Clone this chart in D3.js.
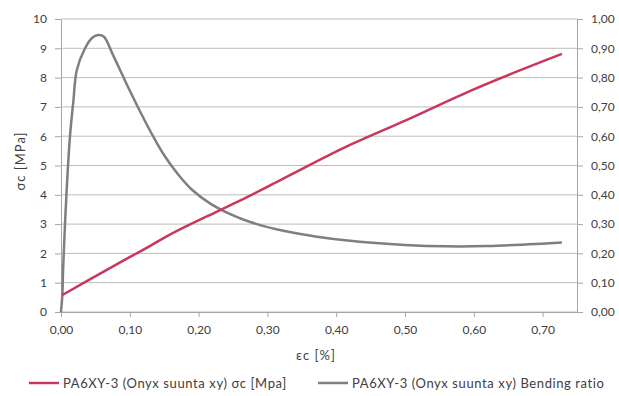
<!DOCTYPE html>
<html>
<head>
<meta charset="utf-8">
<script src="https://cdn.jsdelivr.net/npm/d3@7"></script>
<style>
  html, body { margin: 0; padding: 0; background: #fff; }
  svg { display: block; }
  text { font-family: Lato, "Open Sans", sans-serif; fill: #404040; }
</style>
</head>
<body>
<svg id="chart" width="619" height="396"></svg>
<script>
// Strain εc [%] and compressive stress σc [MPa]
const stressStrain = [0.002, 0.04, 0.088, 0.129, 0.151, 0.226, 0.26, 0.323, 0.42, 0.502, 0.6, 0.728];
const stressValues = [0.58, 1.09, 1.72, 2.25, 2.55, 3.42, 3.8, 4.55, 5.7, 6.55, 7.6, 8.81];

// Strain εc [%] and bending ratio
const bendStrain = [0.0, 0.002, 0.003, 0.008, 0.013, 0.018, 0.023, 0.035, 0.045, 0.054, 0.062, 0.076, 0.095, 0.117, 0.135, 0.15, 0.17, 0.19, 0.217, 0.246, 0.275, 0.323, 0.372, 0.42, 0.5, 0.56, 0.62, 0.68, 0.728];
const bendValues = [0.0, 0.06, 0.143, 0.406, 0.598, 0.72, 0.826, 0.9, 0.935, 0.945, 0.94, 0.875, 0.78, 0.675, 0.595, 0.535, 0.47, 0.418, 0.37, 0.334, 0.307, 0.277, 0.257, 0.243, 0.229, 0.224, 0.225, 0.231, 0.237];

const xTicks = [0, 0.1, 0.2, 0.3, 0.4, 0.5, 0.6, 0.7];
const yLeftTicks = [0, 1, 2, 3, 4, 5, 6, 7, 8, 9, 10];
const yRightTicks = [0, 0.1, 0.2, 0.3, 0.4, 0.5, 0.6, 0.7, 0.8, 0.9, 1.0];

const legendLabels = [
  "PA6XY-3 (Onyx suunta xy) σc [Mpa]",
  "PA6XY-3 (Onyx suunta xy) Bending ratio"
];
const seriesColors = ["#c8385c", "#7f7f7f"];

const svg = d3.select("#chart");
const m = { left: 61, right: 577, top: 19, bottom: 312 };

const x = d3.scaleLinear().domain([0, 0.75]).range([m.left, m.right]);
const yL = d3.scaleLinear().domain([0, 10]).range([m.bottom, m.top]);
const yR = d3.scaleLinear().domain([0, 1]).range([m.bottom, m.top]);

const comma = d => d3.format(".2f")(d).replace(".", ",");

// horizontal gridlines
svg.append("g").selectAll("line").data(yLeftTicks).join("line")
  .attr("x1", m.left).attr("x2", m.right)
  .attr("y1", d => yL(d)).attr("y2", d => yL(d))
  .attr("stroke", "#bdbdbd").attr("stroke-width", 1);

// axes
const axisStyle = g => {
  g.select(".domain").attr("stroke", "#a6a6a6");
  g.selectAll(".tick line").attr("stroke", "#a6a6a6");
  g.selectAll(".tick text").attr("fill", "#404040")
    .style("font-family", "Lato, 'Open Sans', sans-serif").style("font-size", "12px");
};

svg.append("g").attr("transform", `translate(${m.left},0)`)
  .call(d3.axisLeft(yL).tickValues(yLeftTicks).tickFormat(d3.format("d")).tickSize(6).tickSizeOuter(0).tickPadding(8))
  .call(axisStyle);

svg.append("g").attr("transform", `translate(${m.right},0)`)
  .call(d3.axisRight(yR).tickValues(yRightTicks).tickFormat(comma).tickSize(6).tickSizeOuter(0).tickPadding(8))
  .call(axisStyle);

svg.append("g").attr("transform", `translate(0,${m.bottom})`)
  .call(d3.axisBottom(x).tickValues(xTicks).tickFormat(comma).tickSize(5).tickSizeOuter(0).tickPadding(8))
  .call(axisStyle);

// series lines
const stressLine = d3.line().curve(d3.curveMonotoneX)
  .x((d, i) => x(stressStrain[i])).y(d => yL(d));
const bendLine = d3.line().curve(d3.curveCatmullRom.alpha(0.5))
  .x((d, i) => x(bendStrain[i])).y(d => yR(d));

svg.append("path").datum(bendValues)
  .attr("d", bendLine).attr("fill", "none")
  .attr("stroke", seriesColors[1]).attr("stroke-width", 2.5).attr("stroke-linejoin", "round");

svg.append("path").datum(stressValues)
  .attr("d", stressLine).attr("fill", "none")
  .attr("stroke", seriesColors[0]).attr("stroke-width", 2.5).attr("stroke-linejoin", "round");

// axis titles
svg.append("text").attr("transform", "translate(25,161) rotate(-90)")
  .attr("text-anchor", "middle").style("font-size", "13px").style("letter-spacing", "1px").text("σc [MPa]");
svg.append("text").attr("x", 316).attr("y", 360)
  .attr("text-anchor", "middle").style("font-size", "13px").style("letter-spacing", "1px").text("εc [%]");

// legend
const legendX = [29, 318];
const lg = svg.append("g").selectAll("g").data(legendLabels).join("g")
  .attr("transform", (d, i) => `translate(${legendX[i]},383)`);
lg.append("line").attr("x1", 0).attr("x2", 30).attr("y1", 0).attr("y2", 0)
  .attr("stroke", (d, i) => seriesColors[i]).attr("stroke-width", 2.5);
lg.append("text").attr("x", 34).attr("y", 4.5).style("font-size", "13px").style("letter-spacing", "0.6px").text(d => d);
</script>
</body>
</html>
